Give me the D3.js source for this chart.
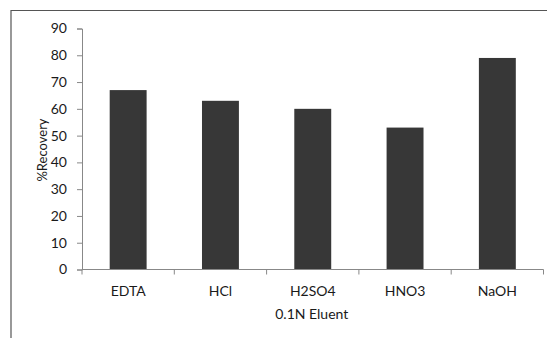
<!DOCTYPE html>
<html>
<head>
<meta charset="utf-8">
<script src="https://cdn.jsdelivr.net/npm/d3@7"></script>
<style>
  html, body { margin: 0; padding: 0; background: #fff; }
  svg { display: block; }
  text { font-family: Lato, "Open Sans", "Liberation Sans", sans-serif; fill: #1a1a1a; }
</style>
</head>
<body>
<svg id="chart" width="547" height="338"></svg>
<script>
// Recovery obtained with each 0.1N eluent
const categories = ["EDTA", "HCl", "H2SO4", "HNO3", "NaOH"];
const recovery = [67, 63, 60, 53, 79];
const yTicks = [0, 10, 20, 30, 40, 50, 60, 70, 80, 90];
const xTitle = "0.1N Eluent";
const yTitle = "%Recovery";

const svg = d3.select("#chart");
const W = 547, H = 338;
const plot = { left: 82, right: 543.5, top: 28.5, bottom: 269.5 };

// outer frame (top and left edges visible)
svg.append("path")
  .attr("d", `M11,${H} L11,10.5 L${W},10.5`)
  .attr("fill", "none").attr("stroke", "#555").attr("stroke-width", 1.2);

const x = d3.scaleBand().domain(categories).range([plot.left, plot.right]).padding(0);
const y = d3.scaleLinear().domain([0, 90]).range([plot.bottom, plot.top]);
const barW = x.bandwidth() * 0.4;

// bars
svg.append("g").selectAll("rect")
  .data(categories)
  .join("rect")
  .attr("x", (d) => x(d) + (x.bandwidth() - barW) / 2)
  .attr("y", (d, i) => y(recovery[i]))
  .attr("width", barW)
  .attr("height", (d, i) => y(0) - y(recovery[i]))
  .attr("fill", "#373737");

// y axis
const yAxis = svg.append("g")
  .attr("transform", `translate(${plot.left},0)`)
  .call(d3.axisLeft(y).tickValues(yTicks).tickSize(5).tickPadding(10));
yAxis.select(".domain").attr("stroke", "#888");
yAxis.selectAll(".tick line").attr("stroke", "#888");
yAxis.selectAll(".tick text")
  .style("font-size", "14px")
  .style("font-family", "Lato, 'Open Sans', sans-serif")
  .attr("fill", "#1a1a1a");

// x axis with ticks at category boundaries
const xAxis = svg.append("g").attr("transform", `translate(0,${plot.bottom})`);
xAxis.append("line")
  .attr("x1", plot.left).attr("x2", plot.right)
  .attr("stroke", "#888");
const bounds = categories.map((d) => x(d)).concat([plot.right]);
xAxis.selectAll(".bt").data(bounds).join("line")
  .attr("class", "bt")
  .attr("x1", (d) => d).attr("x2", (d) => d)
  .attr("y1", 0).attr("y2", 5)
  .attr("stroke", "#888");
xAxis.selectAll(".cl").data(categories).join("text")
  .attr("class", "cl")
  .attr("x", (d) => x(d) + x.bandwidth() / 2)
  .attr("y", 26)
  .attr("text-anchor", "middle")
  .style("font-size", "14px")
  .text((d) => d);

// axis titles
svg.append("text")
  .attr("x", (plot.left + plot.right) / 2 - 1)
  .attr("y", 319)
  .attr("text-anchor", "middle")
  .style("font-size", "14px")
  .text(xTitle);

svg.append("text")
  .attr("transform", `translate(47,150) rotate(-90)`)
  .attr("text-anchor", "middle")
  .style("font-size", "13px")
  .text(yTitle);
</script>
</body>
</html>
